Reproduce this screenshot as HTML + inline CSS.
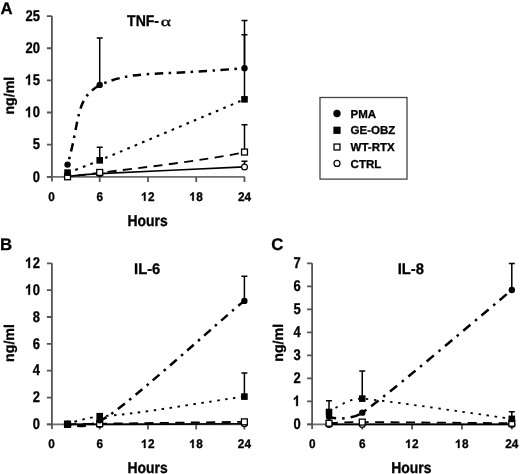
<!DOCTYPE html>
<html><head><meta charset="utf-8"><title>Cytokine release</title><style>
html,body{margin:0;padding:0;background:#fff;}
body{width:520px;height:474px;overflow:hidden;}
svg{display:block;filter:grayscale(1) blur(0.4px);}
text{font-family:"Liberation Sans", sans-serif;font-weight:bold;fill:#000;text-rendering:geometricPrecision;stroke:#000;stroke-width:0.3px;}
.yl{font-size:14.4px;}
.xl{font-size:11.8px;}
.pl{font-size:16.8px;}
.tt{font-size:14.8px;}
.at{font-size:14.2px;}
.lg{font-size:11.5px;}
</style></head>
<body>
<svg width="520" height="474" viewBox="0 0 520 474">
<rect width="520" height="474" fill="#fff"/>
<path d="M46.90 176.90H244.90" stroke="#6e6e6e" stroke-width="1.8" fill="none"/>
<path d="M51.90 16.10V181.50" stroke="#555" stroke-width="1.8" fill="none"/>
<path d="M46.90 176.80H51.90M46.90 144.66H51.90M46.90 112.52H51.90M46.90 80.38H51.90M46.90 48.24H51.90M46.90 16.10H51.90M99.71 176.90V181.90M147.98 176.90V181.90M196.24 176.90V181.90M244.50 176.90V181.90" stroke="#555" stroke-width="1.8" fill="none"/>
<text transform="translate(32.69 181.50) scale(0.9 1.08)" class="yl">0</text>
<text transform="translate(32.69 149.36) scale(0.9 1.08)" class="yl">5</text>
<path d="M0.351 0L0.214 0L0.214 -0.5C0.163 -0.455 0.104 -0.418 0.0386 -0.392L0.0386 -0.512C0.125 -0.535 0.196 -0.59 0.245 -0.678L0.351 -0.678Z" transform="translate(25.49 117.22) scale(12.960 15.552)" fill="#000" stroke="#000" stroke-width="0.3" vector-effect="non-scaling-stroke"/>
<text transform="translate(32.69 117.22) scale(0.9 1.08)" class="yl">0</text>
<path d="M0.351 0L0.214 0L0.214 -0.5C0.163 -0.455 0.104 -0.418 0.0386 -0.392L0.0386 -0.512C0.125 -0.535 0.196 -0.59 0.245 -0.678L0.351 -0.678Z" transform="translate(25.49 85.08) scale(12.960 15.552)" fill="#000" stroke="#000" stroke-width="0.3" vector-effect="non-scaling-stroke"/>
<text transform="translate(32.69 85.08) scale(0.9 1.08)" class="yl">5</text>
<text transform="translate(25.49 52.94) scale(0.9 1.08)" class="yl">2</text>
<text transform="translate(32.69 52.94) scale(0.9 1.08)" class="yl">0</text>
<text transform="translate(25.49 20.80) scale(0.9 1.08)" class="yl">2</text>
<text transform="translate(32.69 20.80) scale(0.9 1.08)" class="yl">5</text>
<text transform="translate(48.17 200.80) scale(1.0 1.06)" class="xl">0</text>
<text transform="translate(96.43 200.80) scale(1.0 1.06)" class="xl">6</text>
<path d="M0.351 0L0.214 0L0.214 -0.5C0.163 -0.455 0.104 -0.418 0.0386 -0.392L0.0386 -0.512C0.125 -0.535 0.196 -0.59 0.245 -0.678L0.351 -0.678Z" transform="translate(141.41 200.80) scale(11.800 12.508)" fill="#000" stroke="#000" stroke-width="0.3" vector-effect="non-scaling-stroke"/>
<text transform="translate(147.98 200.80) scale(1.0 1.06)" class="xl">2</text>
<path d="M0.351 0L0.214 0L0.214 -0.5C0.163 -0.455 0.104 -0.418 0.0386 -0.392L0.0386 -0.512C0.125 -0.535 0.196 -0.59 0.245 -0.678L0.351 -0.678Z" transform="translate(189.68 200.80) scale(11.800 12.508)" fill="#000" stroke="#000" stroke-width="0.3" vector-effect="non-scaling-stroke"/>
<text transform="translate(196.24 200.80) scale(1.0 1.06)" class="xl">8</text>
<text transform="translate(237.94 200.80) scale(1.0 1.06)" class="xl">2</text>
<text transform="translate(244.50 200.80) scale(1.0 1.06)" class="xl">4</text>
<path d="M67.54 176.48C71.24 176.15 79.36 174.68 99.71 173.59C120.06 172.49 227.85 167.73 244.50 166.97" stroke="#000" stroke-width="1.7" fill="none"/>
<path d="M67.45 176.8C71.12 176.34 79.06 175.6 99.4 172.8C139.52 168.1 200.78 160.77 244.3 152.4" stroke="#000" stroke-width="1.85" fill="none" stroke-dasharray="9 6.4" stroke-dashoffset="5.64"/>
<path d="M67.54 172.62C71.24 171.21 79.36 168.77 99.71 160.34C120.06 151.92 227.85 106.36 244.50 99.34" stroke="#000" stroke-width="2.1" fill="none" stroke-dasharray="2.7 5.3" stroke-dashoffset="7.56"/>
<path d="M67.6 164.8C80.65 118.39 74.81 99.69 99.6 85C136.08 69.82 144.13 76.87 244.3 68.1" stroke="#000" stroke-width="2.5" fill="none" stroke-dasharray="8.5 5.5 2.5 5.5" stroke-dashoffset="8.56"/>
<path d="M244.50 166.97V161.37M241.50 161.37H247.50" stroke="#000" stroke-width="1.5" fill="none"/>
<path d="M244.50 152.05V124.73M241.50 124.73H247.50" stroke="#000" stroke-width="1.5" fill="none"/>
<path d="M99.71 160.34V147.23M96.71 147.23H102.71M244.50 99.34V34.74M241.50 34.74H247.50" stroke="#000" stroke-width="1.5" fill="none"/>
<path d="M99.71 84.88V37.96M96.71 37.96H102.71M244.50 68.17V20.60M241.50 20.60H247.50" stroke="#000" stroke-width="1.5" fill="none"/>
<circle cx="67.54" cy="176.48" r="2.90" fill="#fff" stroke="#000" stroke-width="1.2"/>
<circle cx="99.71" cy="173.59" r="2.90" fill="#fff" stroke="#000" stroke-width="1.2"/>
<circle cx="244.50" cy="166.97" r="2.90" fill="#fff" stroke="#000" stroke-width="1.2"/>
<rect x="64.59" y="173.85" width="5.90" height="5.90" fill="#fff" stroke="#000" stroke-width="1.3"/>
<rect x="96.76" y="169.48" width="5.90" height="5.90" fill="#fff" stroke="#000" stroke-width="1.3"/>
<rect x="241.55" y="149.10" width="5.90" height="5.90" fill="#fff" stroke="#000" stroke-width="1.3"/>
<rect x="64.24" y="169.32" width="6.60" height="6.60" fill="#000"/>
<rect x="96.41" y="157.04" width="6.60" height="6.60" fill="#000"/>
<rect x="241.20" y="96.04" width="6.60" height="6.60" fill="#000"/>
<circle cx="67.54" cy="164.59" r="3.20" fill="#000"/>
<circle cx="99.71" cy="84.88" r="3.20" fill="#000"/>
<circle cx="244.50" cy="68.17" r="3.20" fill="#000"/>
<path d="M46.90 424.40H244.80" stroke="#6e6e6e" stroke-width="1.8" fill="none"/>
<path d="M51.90 263.30V429.00" stroke="#555" stroke-width="1.8" fill="none"/>
<path d="M46.90 424.40H51.90M46.90 397.55H51.90M46.90 370.70H51.90M46.90 343.85H51.90M46.90 317.00H51.90M46.90 290.15H51.90M46.90 263.30H51.90M99.69 424.40V429.40M147.93 424.40V429.40M196.16 424.40V429.40M244.40 424.40V429.40" stroke="#555" stroke-width="1.8" fill="none"/>
<text transform="translate(32.69 429.10) scale(0.9 1.08)" class="yl">0</text>
<text transform="translate(32.69 402.25) scale(0.9 1.08)" class="yl">2</text>
<text transform="translate(32.69 375.40) scale(0.9 1.08)" class="yl">4</text>
<text transform="translate(32.69 348.55) scale(0.9 1.08)" class="yl">6</text>
<text transform="translate(32.69 321.70) scale(0.9 1.08)" class="yl">8</text>
<path d="M0.351 0L0.214 0L0.214 -0.5C0.163 -0.455 0.104 -0.418 0.0386 -0.392L0.0386 -0.512C0.125 -0.535 0.196 -0.59 0.245 -0.678L0.351 -0.678Z" transform="translate(25.49 294.85) scale(12.960 15.552)" fill="#000" stroke="#000" stroke-width="0.3" vector-effect="non-scaling-stroke"/>
<text transform="translate(32.69 294.85) scale(0.9 1.08)" class="yl">0</text>
<path d="M0.351 0L0.214 0L0.214 -0.5C0.163 -0.455 0.104 -0.418 0.0386 -0.392L0.0386 -0.512C0.125 -0.535 0.196 -0.59 0.245 -0.678L0.351 -0.678Z" transform="translate(25.49 268.00) scale(12.960 15.552)" fill="#000" stroke="#000" stroke-width="0.3" vector-effect="non-scaling-stroke"/>
<text transform="translate(32.69 268.00) scale(0.9 1.08)" class="yl">2</text>
<text transform="translate(48.17 448.00) scale(1.0 1.06)" class="xl">0</text>
<text transform="translate(96.41 448.00) scale(1.0 1.06)" class="xl">6</text>
<path d="M0.351 0L0.214 0L0.214 -0.5C0.163 -0.455 0.104 -0.418 0.0386 -0.392L0.0386 -0.512C0.125 -0.535 0.196 -0.59 0.245 -0.678L0.351 -0.678Z" transform="translate(141.36 448.00) scale(11.800 12.508)" fill="#000" stroke="#000" stroke-width="0.3" vector-effect="non-scaling-stroke"/>
<text transform="translate(147.93 448.00) scale(1.0 1.06)" class="xl">2</text>
<path d="M0.351 0L0.214 0L0.214 -0.5C0.163 -0.455 0.104 -0.418 0.0386 -0.392L0.0386 -0.512C0.125 -0.535 0.196 -0.59 0.245 -0.678L0.351 -0.678Z" transform="translate(189.60 448.00) scale(11.800 12.508)" fill="#000" stroke="#000" stroke-width="0.3" vector-effect="non-scaling-stroke"/>
<text transform="translate(196.16 448.00) scale(1.0 1.06)" class="xl">8</text>
<text transform="translate(237.84 448.00) scale(1.0 1.06)" class="xl">2</text>
<text transform="translate(244.40 448.00) scale(1.0 1.06)" class="xl">4</text>
<path d="M67.53 424.40C71.23 424.40 79.35 424.48 99.69 424.40C120.03 424.32 227.76 423.81 244.40 423.73" stroke="#000" stroke-width="1.7" fill="none"/>
<path d="M67.53 424.40C71.23 424.32 79.35 424.02 99.69 423.73C120.03 423.44 227.76 422.07 244.40 421.85" stroke="#000" stroke-width="1.85" fill="none" stroke-dasharray="9 6.4"/>
<path d="M67.53 423.86C71.23 422.98 79.35 419.34 99.69 416.21C130.49 415.47 210.18 401.03 244.4 396.61" stroke="#000" stroke-width="1.9" fill="none" stroke-dasharray="2.5 5.5" stroke-dashoffset="0.5"/>
<path d="M67.45 424.0C76 427 89 427 99.7 420.4C111.22 420.6 229.1 312.18 244.2 300.9" stroke="#000" stroke-width="2.5" fill="none" stroke-dasharray="8.8 5.7 2.5 5.6" stroke-dashoffset="12.65"/>
<path d="M244.40 396.61V373.12M241.40 373.12H247.40" stroke="#000" stroke-width="1.5" fill="none"/>
<path d="M244.40 300.89V276.19M241.40 276.19H247.40" stroke="#000" stroke-width="1.5" fill="none"/>
<circle cx="67.53" cy="424.40" r="2.90" fill="#fff" stroke="#000" stroke-width="1.2"/>
<circle cx="99.69" cy="424.40" r="2.90" fill="#fff" stroke="#000" stroke-width="1.2"/>
<circle cx="244.40" cy="423.73" r="2.90" fill="#fff" stroke="#000" stroke-width="1.2"/>
<rect x="64.58" y="421.45" width="5.90" height="5.90" fill="#fff" stroke="#000" stroke-width="1.3"/>
<rect x="96.74" y="420.78" width="5.90" height="5.90" fill="#fff" stroke="#000" stroke-width="1.3"/>
<rect x="241.45" y="418.90" width="5.90" height="5.90" fill="#fff" stroke="#000" stroke-width="1.3"/>
<rect x="64.23" y="420.56" width="6.60" height="6.60" fill="#000"/>
<rect x="96.39" y="412.91" width="6.60" height="6.60" fill="#000"/>
<rect x="241.10" y="393.31" width="6.60" height="6.60" fill="#000"/>
<circle cx="67.53" cy="424.00" r="3.20" fill="#000"/>
<circle cx="99.69" cy="420.37" r="3.20" fill="#000"/>
<circle cx="244.40" cy="300.89" r="3.20" fill="#000"/>
<path d="M307.10 424.40H512.20" stroke="#6e6e6e" stroke-width="1.8" fill="none"/>
<path d="M312.10 263.30V429.00" stroke="#555" stroke-width="1.8" fill="none"/>
<path d="M307.10 424.40H312.10M307.10 401.39H312.10M307.10 378.37H312.10M307.10 355.36H312.10M307.10 332.34H312.10M307.10 309.33H312.10M307.10 286.31H312.10M307.10 263.30H312.10M362.25 424.40V429.40M412.10 424.40V429.40M461.95 424.40V429.40M511.80 424.40V429.40" stroke="#555" stroke-width="1.8" fill="none"/>
<text transform="translate(293.39 429.10) scale(0.9 1.08)" class="yl">0</text>
<path d="M0.351 0L0.214 0L0.214 -0.5C0.163 -0.455 0.104 -0.418 0.0386 -0.392L0.0386 -0.512C0.125 -0.535 0.196 -0.59 0.245 -0.678L0.351 -0.678Z" transform="translate(293.39 406.09) scale(12.960 15.552)" fill="#000" stroke="#000" stroke-width="0.3" vector-effect="non-scaling-stroke"/>
<text transform="translate(293.39 383.07) scale(0.9 1.08)" class="yl">2</text>
<text transform="translate(293.39 360.06) scale(0.9 1.08)" class="yl">3</text>
<text transform="translate(293.39 337.04) scale(0.9 1.08)" class="yl">4</text>
<text transform="translate(293.39 314.03) scale(0.9 1.08)" class="yl">5</text>
<text transform="translate(293.39 291.01) scale(0.9 1.08)" class="yl">6</text>
<text transform="translate(293.39 268.00) scale(0.9 1.08)" class="yl">7</text>
<text transform="translate(309.12 448.00) scale(1.0 1.06)" class="xl">0</text>
<text transform="translate(358.97 448.00) scale(1.0 1.06)" class="xl">6</text>
<path d="M0.351 0L0.214 0L0.214 -0.5C0.163 -0.455 0.104 -0.418 0.0386 -0.392L0.0386 -0.512C0.125 -0.535 0.196 -0.59 0.245 -0.678L0.351 -0.678Z" transform="translate(405.54 448.00) scale(11.800 12.508)" fill="#000" stroke="#000" stroke-width="0.3" vector-effect="non-scaling-stroke"/>
<text transform="translate(412.10 448.00) scale(1.0 1.06)" class="xl">2</text>
<path d="M0.351 0L0.214 0L0.214 -0.5C0.163 -0.455 0.104 -0.418 0.0386 -0.392L0.0386 -0.512C0.125 -0.535 0.196 -0.59 0.245 -0.678L0.351 -0.678Z" transform="translate(455.39 448.00) scale(11.800 12.508)" fill="#000" stroke="#000" stroke-width="0.3" vector-effect="non-scaling-stroke"/>
<text transform="translate(461.95 448.00) scale(1.0 1.06)" class="xl">8</text>
<text transform="translate(505.24 448.00) scale(1.0 1.06)" class="xl">2</text>
<text transform="translate(511.80 448.00) scale(1.0 1.06)" class="xl">4</text>
<path d="M329.02 424.40C332.84 424.40 341.23 424.40 362.25 424.40C383.27 424.40 494.60 424.40 511.80 424.40" stroke="#000" stroke-width="1.7" fill="none"/>
<path d="M329.02 423.25C332.84 423.12 341.23 422.10 362.25 422.10C383.27 422.10 494.60 423.12 511.80 423.25" stroke="#000" stroke-width="1.85" fill="none" stroke-dasharray="9 6.4"/>
<path d="M329.02 411.97C331.68 410.90 347.63 398.07 362.25 398.62C376.87 399.18 499.84 417.26 511.80 418.88" stroke="#000" stroke-width="1.8" fill="none" stroke-dasharray="2.4 5.7" stroke-dashoffset="0.35"/>
<path d="M329.02 416.81C338 420 354 418.5 362.25 412.66C380.79 401.06 489.01 308.93 511.6 290.1" stroke="#000" stroke-width="2.5" fill="none" stroke-dasharray="9.3 6 2.5 5.97" stroke-dashoffset="1.99"/>
<path d="M329.02 411.97V400.70M326.02 400.70H332.02M362.25 398.62V371.01M359.25 371.01H365.25M511.80 418.88V411.74M508.80 411.74H514.80" stroke="#000" stroke-width="1.5" fill="none"/>
<path d="M511.80 290.00V263.53M508.80 263.53H514.80" stroke="#000" stroke-width="1.5" fill="none"/>
<circle cx="329.02" cy="424.40" r="2.90" fill="#fff" stroke="#000" stroke-width="1.2"/>
<circle cx="362.25" cy="424.40" r="2.90" fill="#fff" stroke="#000" stroke-width="1.2"/>
<circle cx="511.80" cy="424.40" r="2.90" fill="#fff" stroke="#000" stroke-width="1.2"/>
<rect x="326.07" y="420.30" width="5.90" height="5.90" fill="#fff" stroke="#000" stroke-width="1.3"/>
<rect x="359.30" y="419.15" width="5.90" height="5.90" fill="#fff" stroke="#000" stroke-width="1.3"/>
<rect x="508.85" y="420.30" width="5.90" height="5.90" fill="#fff" stroke="#000" stroke-width="1.3"/>
<rect x="325.72" y="408.67" width="6.60" height="6.60" fill="#000"/>
<rect x="358.95" y="395.32" width="6.60" height="6.60" fill="#000"/>
<rect x="508.50" y="415.58" width="6.60" height="6.60" fill="#000"/>
<circle cx="329.02" cy="416.81" r="3.20" fill="#000"/>
<circle cx="362.25" cy="412.66" r="3.20" fill="#000"/>
<circle cx="511.80" cy="290.00" r="3.20" fill="#000"/>
<text x="0.6" y="13.6" class="pl">A</text>
<text x="0.0" y="250.3" class="pl">B</text>
<text x="271.2" y="250.3" class="pl">C</text>
<text transform="translate(127.05 25.5) scale(0.95 1.05)" class="tt">TNF-</text>
<text transform="translate(160.7 25.5) scale(1.45 1)" style="font-family:'Liberation Serif', serif;font-weight:normal;font-size:13.5px">α</text>
<text transform="translate(147.2 273.9) scale(1 1.03)" text-anchor="middle" class="tt">IL-6</text>
<text transform="translate(410.8 273.9) scale(1 1.03)" text-anchor="middle" class="tt">IL-8</text>
<text transform="translate(147.6 225.8) scale(0.98 1.1)" text-anchor="middle" class="at">Hours</text>
<text transform="translate(147.6 472.8) scale(0.98 1.1)" text-anchor="middle" class="at">Hours</text>
<text transform="translate(411.4 472.8) scale(0.98 1.1)" text-anchor="middle" class="at">Hours</text>
<text transform="translate(13.9 95.7) rotate(-90)" x="0" y="0" text-anchor="middle" class="at">ng/ml</text>
<text transform="translate(13.9 343.0) rotate(-90)" x="0" y="0" text-anchor="middle" class="at">ng/ml</text>
<text transform="translate(282.5 342.8) rotate(-90)" x="0" y="0" text-anchor="middle" class="at">ng/ml</text>
<rect x="320.0" y="97.5" width="87.0" height="81.6" fill="#fff" stroke="#444" stroke-width="1.3"/>
<circle cx="337.00" cy="113.50" r="3.70" fill="#000"/>
<text x="350.6" y="117.60" class="lg">PMA</text>
<rect x="333.40" y="126.70" width="7.20" height="7.20" fill="#000"/>
<text x="350.6" y="134.40" class="lg">GE-OBZ</text>
<rect x="334.05" y="144.05" width="5.90" height="5.90" fill="#fff" stroke="#000" stroke-width="1.3"/>
<text x="350.6" y="151.10" class="lg">WT-RTX</text>
<circle cx="337.00" cy="163.40" r="3.00" fill="#fff" stroke="#000" stroke-width="1.2"/>
<text x="350.6" y="167.50" class="lg">CTRL</text>
</svg>
</body></html>
